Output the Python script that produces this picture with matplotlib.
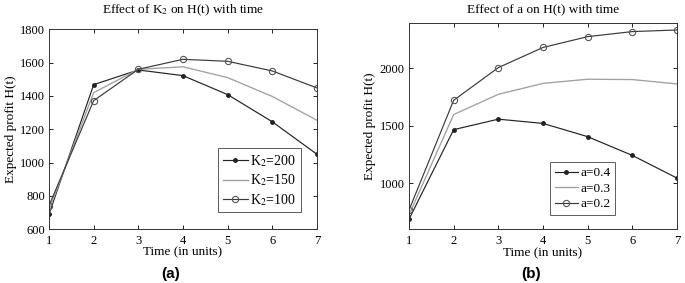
import matplotlib
matplotlib.use("Agg")
import matplotlib.pyplot as plt

plt.rcParams['font.family'] = ['Liberation Serif', 'DejaVu Serif']
plt.rcParams['mathtext.fontset'] = 'stix'

t = [1, 2, 3, 4, 5, 6, 7]

# Panel (a): effect of K2
k2_200 = [690, 1468, 1556, 1522, 1408, 1245, 1050]
k2_150 = [715, 1420, 1560, 1575, 1510, 1397, 1254]
k2_100 = [742, 1372, 1560, 1620, 1608, 1550, 1448]
labels_a = ["K$_2$=200", "K$_2$=150", "K$_2$=100"]

# Panel (b): effect of a
a_04 = [688, 1466, 1557, 1520, 1405, 1242, 1045]
a_03 = [725, 1597, 1773, 1868, 1904, 1901, 1863]
a_02 = [767, 1721, 2005, 2180, 2274, 2318, 2332]
labels_b = ["a=0.4", "a=0.3", "a=0.2"]

fig = plt.figure(figsize=(6.85, 2.83), dpi=100)
W, H = 685, 283
axA = fig.add_axes([49 / W, 1 - 229.3 / H, (317 - 49) / W, (229.3 - 29.3) / H])
axB = fig.add_axes([409 / W, 1 - 229.3 / H, (677 - 409) / W, (229.3 - 23.3) / H])

dark = '#222222'
light = '#a0a0a0'
circ = '#3a3a3a'

def style(ax):
    ax.tick_params(direction='in', top=True, right=True, labelsize=9,
                   length=3, width=0.6)
    ax.tick_params(axis='x', pad=4)
    ax.tick_params(axis='y', pad=3)
    for s in ax.spines.values():
        s.set_linewidth(0.7)
        s.set_color('#333333')
    ax.set_xlim(1, 7)
    ax.set_xticks(t)
    ax.set_xlabel("Time (in units)", fontsize=9.5, va='top')
    ax.set_ylabel("Expected profit H(t)", fontsize=9.5)

axes_specs = [
    (axA, k2_200, k2_150, k2_100, labels_a, (0.631, 0.405), 10),
    (axB, a_04, a_03, a_02, labels_b, (0.526, 0.325), 9.5),
]
for ax, s1, s2, s3, labs, anchor, lfs in axes_specs:
    ax.plot(t, s1, color=dark, lw=0.85, marker='.', ms=5, label=labs[0])
    ax.plot(t, s2, color=light, lw=0.95, label=labs[1])
    ax.plot(t, s3, color=circ, lw=0.85, marker='o', ms=4.5, mfc='none',
            mec='#555555', mew=0.8, label=labs[2])
    style(ax)
    leg = ax.legend(loc='upper left', bbox_to_anchor=anchor, borderaxespad=0,
                    fontsize=lfs, frameon=True, fancybox=False,
                    edgecolor='#333333', handlelength=1.8, handletextpad=0.15,
                    labelspacing=0.25, borderpad=0.35)
    leg.get_frame().set_linewidth(0.7)

axA.set_ylim(600, 1800)
axA.set_yticks([600, 800, 1000, 1200, 1400, 1600, 1800])
axA.xaxis.set_label_coords(0.5, -0.087)
axA.yaxis.set_label_coords(-0.121, 0.5)

axB.set_ylim(600, 2390)
axB.set_yticks([1000, 1500, 2000])
axB.xaxis.set_label_coords(0.5, -0.085)
axB.yaxis.set_label_coords(-0.125, 0.5)

fig.text(183.5 / W, 1 - 10 / H, "Effect of K$_2$ on H(t) with time",
         ha='center', va='center', fontsize=9.5)
fig.text(543 / W, 1 - 9.3 / H, "Effect of a on H(t) with time",
         ha='center', va='center', fontsize=9.5)

fig.text(170.5 / W, 1 - 274.3 / H, "(a)", ha='center', va='center',
         fontsize=11, fontweight='bold', family='Liberation Sans')
fig.text(531 / W, 1 - 274.3 / H, "(b)", ha='center', va='center',
         fontsize=11, fontweight='bold', family='Liberation Sans')

fig.savefig("out.png", dpi=100)
